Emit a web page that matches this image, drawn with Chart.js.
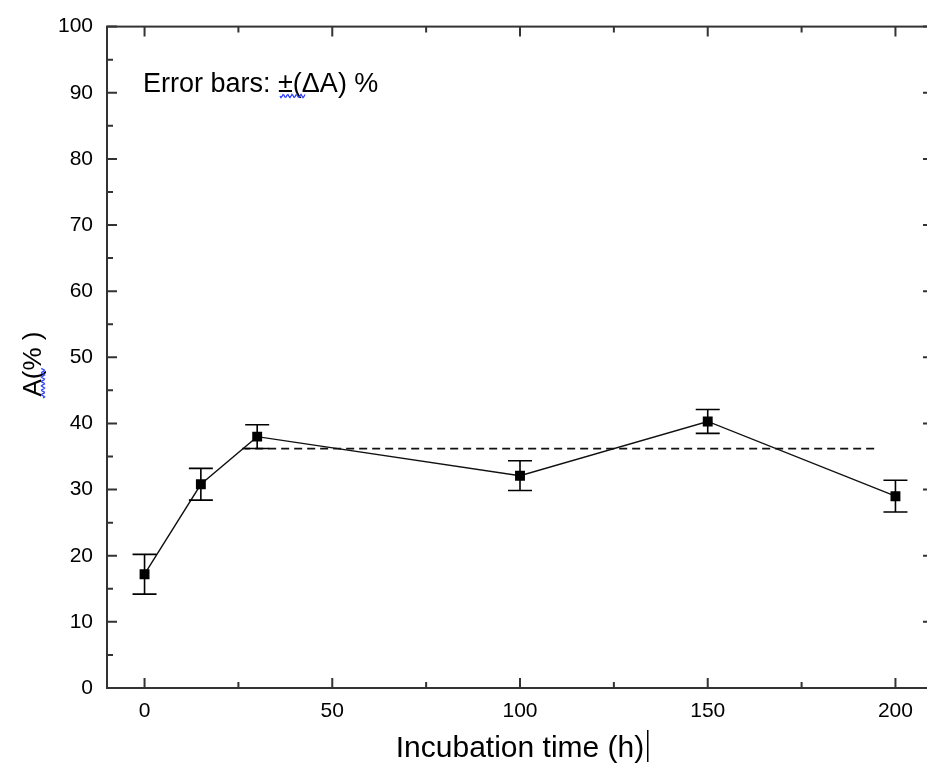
<!DOCTYPE html>
<html>
<head>
<meta charset="utf-8">
<script src="https://cdn.jsdelivr.net/npm/chart.js@4.4.1/dist/chart.umd.min.js"></script>
<style>
  html, body { margin: 0; padding: 0; overflow: hidden; background: #fff; }
  #wrap { width: 940px; height: 763px; position: relative; }
</style>
</head>
<body>
<div id="wrap"><canvas id="chart"></canvas></div>
<script>
// incubation time (h) and measured A (%)
var hours = [0, 15, 30, 100, 150, 200];
var aValues = [17.2, 30.8, 38.0, 32.1, 40.3, 29.0];
var aErrors = [3.0, 2.4, 1.8, 2.25, 1.8, 2.4];

// dashed reference level
var refHours = [26, 195.5];
var refLevel = [36.2, 36.2];

var xTickValues = [0, 50, 100, 150, 200];
var yTickValues = [0, 10, 20, 30, 40, 50, 60, 70, 80, 90, 100];

var axisColor = '#333333';
var fontFamily = '"Liberation Sans", Arial, sans-serif';

var boxAndTicks = {
    id: 'boxAndTicks',
    afterDraw: function (chart) {
        var ctx = chart.ctx;
        var a = chart.chartArea;
        var xs = chart.scales.x, ys = chart.scales.y;
        ctx.save();
        ctx.strokeStyle = axisColor;
        ctx.lineWidth = 2;
        ctx.strokeRect(a.left, a.top, a.right - a.left, a.bottom - a.top);

        // inward ticks on all four sides, minor ones halfway between majors
        ctx.beginPath();
        for (var v = 0; v <= 200; v += 25) {
            var px = xs.getPixelForValue(v);
            var len = v % 50 === 0 ? 10 : 6;
            ctx.moveTo(px, a.bottom); ctx.lineTo(px, a.bottom - len);
            ctx.moveTo(px, a.top); ctx.lineTo(px, a.top + len);
        }
        for (var w = 0; w <= 100; w += 5) {
            var py = ys.getPixelForValue(w);
            var l2 = w % 10 === 0 ? 10 : 6;
            ctx.moveTo(a.left, py); ctx.lineTo(a.left + l2, py);
            ctx.moveTo(a.right, py); ctx.lineTo(a.right - l2, py);
        }
        ctx.stroke();
        ctx.restore();
    }
};

var errorBars = {
    id: 'errorBars',
    afterDatasetsDraw: function (chart) {
        var ctx = chart.ctx;
        var xs = chart.scales.x, ys = chart.scales.y;
        ctx.save();
        ctx.strokeStyle = '#000';
        ctx.lineWidth = 1.6;
        ctx.beginPath();
        for (var i = 0; i < hours.length; i++) {
            var px = xs.getPixelForValue(hours[i]);
            var top = ys.getPixelForValue(aValues[i] + aErrors[i]);
            var bot = ys.getPixelForValue(aValues[i] - aErrors[i]);
            ctx.moveTo(px, top); ctx.lineTo(px, bot);
            ctx.moveTo(px - 12, top); ctx.lineTo(px + 12, top);
            ctx.moveTo(px - 12, bot); ctx.lineTo(px + 12, bot);
        }
        ctx.stroke();
        ctx.restore();
    }
};

function squiggle(ctx, x0, y0, len, vertical) {
    ctx.beginPath();
    for (var t = 0; t <= len; t += 1) {
        var off = Math.sin(t / 2.2 * Math.PI) * 1.6;
        if (vertical) {
            if (t === 0) ctx.moveTo(x0 + off, y0 - t); else ctx.lineTo(x0 + off, y0 - t);
        } else {
            if (t === 0) ctx.moveTo(x0 + t, y0 + off); else ctx.lineTo(x0 + t, y0 + off);
        }
    }
    ctx.stroke();
}

var labels = {
    id: 'labels',
    afterDraw: function (chart) {
        var ctx = chart.ctx;
        ctx.save();
        ctx.fillStyle = '#000';
        ctx.textBaseline = 'alphabetic';

        // annotation
        ctx.font = '27px ' + fontFamily;
        ctx.textAlign = 'left';
        ctx.fillText('Error bars: \u00b1(\u0394A) %', 143, 92);

        // x title with text cursor after it
        ctx.font = '30px ' + fontFamily;
        ctx.textAlign = 'center';
        ctx.fillText('Incubation time (h)', 520, 757);
        ctx.fillRect(647, 730, 1.5, 32);

        // y title
        ctx.font = '26px ' + fontFamily;
        ctx.translate(41, 364);
        ctx.rotate(-Math.PI / 2);
        ctx.fillText('A(% )', 0, 0);
        ctx.restore();

        ctx.save();
        ctx.strokeStyle = '#2a3cff';
        ctx.lineWidth = 1.3;
        squiggle(ctx, 280, 96, 25, false);
        squiggle(ctx, 43, 398, 30, true);
        ctx.restore();
    }
};

new Chart(document.getElementById('chart').getContext('2d'), {
    type: 'scatter',
    data: {
        datasets: [{
            label: 'A',
            data: hours.map(function (h, i) { return { x: h, y: aValues[i] }; }),
            showLine: true,
            borderColor: '#111',
            borderWidth: 1.4,
            backgroundColor: '#000',
            pointStyle: 'rect',
            pointRadius: 7,
            pointBorderWidth: 0,
            order: 1
        }, {
            label: 'level',
            data: refHours.map(function (h, i) { return { x: h, y: refLevel[i] }; }),
            showLine: true,
            borderColor: '#111',
            borderWidth: 1.8,
            borderDash: [8, 5],
            pointRadius: 0,
            order: 2
        }]
    },
    options: {
        responsive: true,
        maintainAspectRatio: false,
        animation: false,
        layout: { padding: { top: 22, right: 4, left: 0, bottom: 0 } },
        plugins: {
            legend: { display: false },
            tooltip: { enabled: false }
        },
        scales: {
            x: {
                type: 'linear',
                min: -10,
                max: 210,
                afterBuildTicks: function (s) { s.ticks = xTickValues.map(function (v) { return { value: v }; }); },
                afterFit: function (s) { s.height = 75; },
                grid: { display: false, drawTicks: false },
                border: { display: false },
                ticks: {
                    padding: 11,
                    color: '#000',
                    font: { family: fontFamily, size: 21 }
                }
            },
            y: {
                type: 'linear',
                min: 0,
                max: 100,
                afterBuildTicks: function (s) { s.ticks = yTickValues.map(function (v) { return { value: v }; }); },
                afterFit: function (s) { s.width = 107; },
                grid: { display: false, drawTicks: false },
                border: { display: false },
                ticks: {
                    padding: 14,
                    color: '#000',
                    font: { family: fontFamily, size: 21 }
                }
            }
        }
    },
    plugins: [errorBars, boxAndTicks, labels]
});
</script>
</body>
</html>
